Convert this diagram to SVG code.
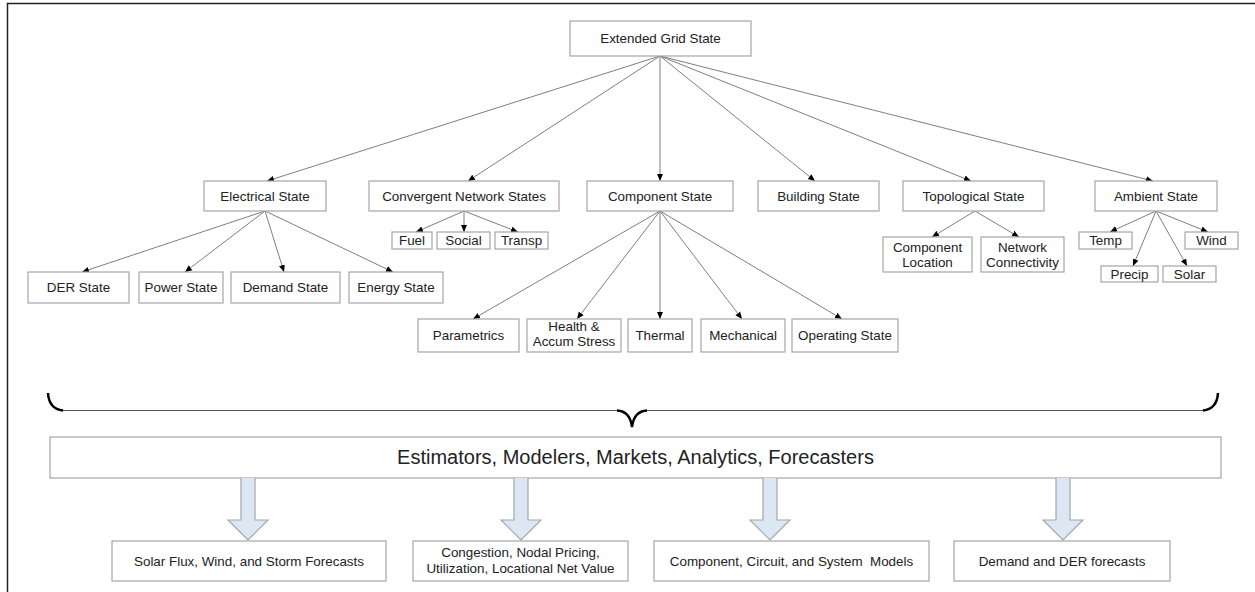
<svg xmlns="http://www.w3.org/2000/svg" width="1255" height="592" viewBox="0 0 1255 592">
<style>
.box{fill:#fff;stroke:#a6a6a6;stroke-width:1.2}
.t{font-family:"Liberation Sans",Arial,sans-serif;font-size:13.4px;fill:#222;text-anchor:middle}
.big{font-size:20px}
.con{stroke:#7f7f7f;stroke-width:1;fill:none;marker-end:url(#ah)}
.blk{fill:#dde7f3;stroke:#a6a6a6;stroke-width:1.2}
</style>
<defs>
<marker id="ah" markerUnits="userSpaceOnUse" markerWidth="8" markerHeight="8" viewBox="0 0 8 8" refX="7" refY="4" orient="auto">
<path d="M0,1 L7,4 L0,7 Z" fill="#000"/>
</marker>
</defs>
<rect x="0" y="0" width="1255" height="592" fill="#fff"/>
<path d="M7.5,592 V3.5 H1255" fill="none" stroke="#222" stroke-width="1.5"/>

<g id="connectors">
<line class="con" x1="660" y1="56" x2="267" y2="181"/>
<line class="con" x1="660" y1="56" x2="468" y2="181"/>
<line class="con" x1="660" y1="56" x2="660" y2="181"/>
<line class="con" x1="660" y1="56" x2="815" y2="181"/>
<line class="con" x1="660" y1="56" x2="971" y2="181"/>
<line class="con" x1="660" y1="56" x2="1153" y2="181"/>
<line class="con" x1="265" y1="211" x2="82" y2="272"/>
<line class="con" x1="265" y1="211" x2="185" y2="272"/>
<line class="con" x1="265" y1="211" x2="284" y2="272"/>
<line class="con" x1="265" y1="211" x2="393" y2="272"/>
<line class="con" x1="464" y1="211" x2="416" y2="232"/>
<line class="con" x1="464" y1="211" x2="464" y2="232"/>
<line class="con" x1="464" y1="211" x2="518" y2="232"/>
<line class="con" x1="660" y1="211" x2="473" y2="319"/>
<line class="con" x1="660" y1="211" x2="577" y2="319"/>
<line class="con" x1="660" y1="211" x2="660" y2="319"/>
<line class="con" x1="660" y1="211" x2="742" y2="319"/>
<line class="con" x1="660" y1="211" x2="842" y2="319"/>
<line class="con" x1="975" y1="211" x2="932" y2="237"/>
<line class="con" x1="975" y1="211" x2="1019" y2="237"/>
<line class="con" x1="1156" y1="211" x2="1110" y2="232"/>
<line class="con" x1="1156" y1="211" x2="1208" y2="232"/>
<line class="con" x1="1156" y1="211" x2="1133" y2="266"/>
<line class="con" x1="1156" y1="211" x2="1187" y2="266"/>
</g>

<g id="n-extended"><rect class="box" x="570" y="21" width="181" height="35"/><text class="t" x="660.5" y="43">Extended Grid State</text></g>
<g id="n-electrical"><rect class="box" x="204" y="181" width="122" height="30"/><text class="t" x="265" y="200.5">Electrical State</text></g>
<g id="n-convergent"><rect class="box" x="369" y="181" width="190" height="30"/><text class="t" x="464" y="200.5">Convergent Network States</text></g>
<g id="n-component"><rect class="box" x="587" y="181" width="146" height="30"/><text class="t" x="660" y="200.5">Component State</text></g>
<g id="n-building"><rect class="box" x="758" y="181" width="121" height="30"/><text class="t" x="818.5" y="200.5">Building State</text></g>
<g id="n-topological"><rect class="box" x="903" y="181" width="141" height="30"/><text class="t" x="973.5" y="200.5">Topological State</text></g>
<g id="n-ambient"><rect class="box" x="1095" y="181" width="122" height="30"/><text class="t" x="1156" y="200.5">Ambient State</text></g>

<g id="n-der"><rect class="box" x="28" y="272" width="101" height="31"/><text class="t" x="78.5" y="292">DER State</text></g>
<g id="n-power"><rect class="box" x="139" y="272" width="84" height="31"/><text class="t" x="181" y="292">Power State</text></g>
<g id="n-demand"><rect class="box" x="231" y="272" width="109" height="31"/><text class="t" x="285.5" y="292">Demand State</text></g>
<g id="n-energy"><rect class="box" x="349" y="272" width="94" height="31"/><text class="t" x="396" y="292">Energy State</text></g>

<g id="n-fuel"><rect class="box" x="392" y="232" width="40" height="17"/><text class="t" x="412" y="245">Fuel</text></g>
<g id="n-social"><rect class="box" x="437" y="232" width="53" height="17"/><text class="t" x="463.5" y="245">Social</text></g>
<g id="n-transp"><rect class="box" x="495" y="232" width="53" height="17"/><text class="t" x="521.5" y="245">Transp</text></g>

<g id="n-parametrics"><rect class="box" x="418" y="319" width="101" height="33"/><text class="t" x="468.5" y="340">Parametrics</text></g>
<g id="n-health"><rect class="box" x="527" y="319" width="94" height="33"/><text class="t" x="574" y="331">Health &amp;</text><text class="t" x="574" y="346">Accum Stress</text></g>
<g id="n-thermal"><rect class="box" x="628" y="319" width="64" height="33"/><text class="t" x="660" y="340">Thermal</text></g>
<g id="n-mechanical"><rect class="box" x="701" y="319" width="84" height="33"/><text class="t" x="743" y="340">Mechanical</text></g>
<g id="n-operating"><rect class="box" x="792" y="319" width="106" height="33"/><text class="t" x="845" y="340">Operating State</text></g>

<g id="n-comploc"><rect class="box" x="883" y="237" width="89" height="35"/><text class="t" x="927.5" y="251.5">Component</text><text class="t" x="927.5" y="266.5">Location</text></g>
<g id="n-netconn"><rect class="box" x="981" y="237" width="83" height="35"/><text class="t" x="1022.5" y="251.5">Network</text><text class="t" x="1022.5" y="266.5">Connectivity</text></g>

<g id="n-temp"><rect class="box" x="1079" y="232" width="53" height="17"/><text class="t" x="1105.5" y="245">Temp</text></g>
<g id="n-wind"><rect class="box" x="1185" y="232" width="53" height="17"/><text class="t" x="1211.5" y="245">Wind</text></g>
<g id="n-precip"><rect class="box" x="1101" y="266" width="57" height="16"/><text class="t" x="1129.5" y="278.5">Precip</text></g>
<g id="n-solar"><rect class="box" x="1163" y="266" width="53" height="16"/><text class="t" x="1189.5" y="278.5">Solar</text></g>

<g id="brace" fill="none">
<path d="M60,410.5 H620 M644,410.5 H1205" stroke="#555" stroke-width="1.2"/>
<path d="M48,393 Q49,409 63,410.5" stroke="#000" stroke-width="2.5"/>
<path d="M1218,393 Q1217,409 1203,410.5" stroke="#000" stroke-width="2.5"/>
<path d="M617,410.5 Q630,411 632,427 Q634,411 647,410.5" stroke="#000" stroke-width="2.5"/>
</g>

<g id="n-main"><rect class="box" x="50" y="437" width="1171" height="41"/><text class="t big" x="635.5" y="464">Estimators, Modelers, Markets, Analytics, Forecasters</text></g>

<g id="block-arrows">
<path class="blk" d="M241,478 V520 H228 L248,540 L268,520 H255 V478"/>
<path class="blk" d="M514,478 V520 H501 L521,540 L541,520 H528 V478"/>
<path class="blk" d="M763,478 V520 H750 L770,540 L790,520 H777 V478"/>
<path class="blk" d="M1056,478 V520 H1043 L1063,540 L1083,520 H1070 V478"/>
</g>

<g id="n-out1"><rect class="box" x="112" y="541" width="274" height="40"/><text class="t" x="249" y="565.5">Solar Flux, Wind, and Storm Forecasts</text></g>
<g id="n-out2"><rect class="box" x="413" y="541" width="215" height="40"/><text class="t" x="520.5" y="557">Congestion, Nodal Pricing,</text><text class="t" x="520.5" y="573">Utilization, Locational Net Value</text></g>
<g id="n-out3"><rect class="box" x="654" y="541" width="275" height="40"/><text class="t" x="791.5" y="565.5" xml:space="preserve">Component, Circuit, and System  Models</text></g>
<g id="n-out4"><rect class="box" x="954" y="541" width="216" height="40"/><text class="t" x="1062" y="565.5">Demand and DER forecasts</text></g>
</svg>
